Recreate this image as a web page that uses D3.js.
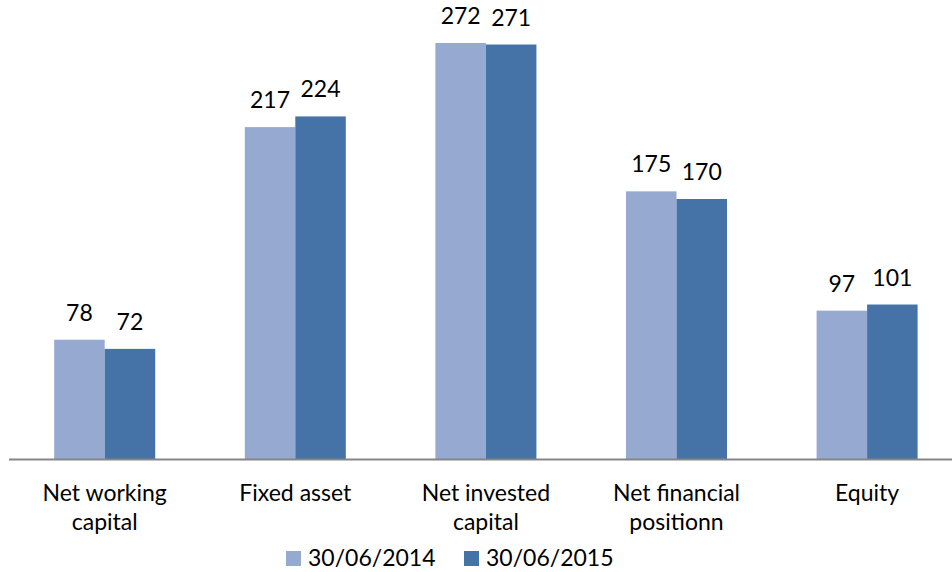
<!DOCTYPE html>
<html>
<head>
<meta charset="utf-8">
<script src="https://cdn.jsdelivr.net/npm/d3@7"></script>
<style>
  body { margin: 0; background: #fff; }
  text { font-family: Lato, "Open Sans", sans-serif; fill: #000; }
</style>
</head>
<body>
<div id="chart"></div>
<script>
const categories = [["Net working", "capital"], ["Fixed asset"], ["Net invested", "capital"], ["Net financial", "positionn"], ["Equity"]];
const seriesNames = ["30/06/2014", "30/06/2015"];
const values2014 = [78, 217, 272, 175, 97];
const values2015 = [72, 224, 271, 170, 101];
const colors = ["#95A9D1", "#4573A8"];

const width = 952, height = 572;
const baseline = 459;
const fontSize = "23px";

const svg = d3.select("#chart")
  .append("svg")
  .attr("width", width)
  .attr("height", height);

const xScale = d3.scaleBand()
  .domain(d3.range(categories.length))
  .range([9.4, 962.4])
  .paddingInner(0.47)
  .paddingOuter(0.235);

const xSub = d3.scaleBand()
  .domain([0, 1])
  .range([0, xScale.bandwidth()]);

const yScale = d3.scaleLinear()
  .domain([0, 272])
  .range([baseline, 43]);

const series = [values2014, values2015];

series.forEach((vals, s) => {
  const g = svg.append("g");
  g.selectAll("rect")
    .data(vals)
    .enter()
    .append("rect")
    .attr("x", (d, i) => xScale(i) + xSub(s))
    .attr("y", d => yScale(d))
    .attr("width", xSub.bandwidth())
    .attr("height", d => baseline - yScale(d))
    .attr("fill", colors[s]);

  g.selectAll("text")
    .data(vals)
    .enter()
    .append("text")
    .attr("x", (d, i) => xScale(i) + xSub(s) + xSub.bandwidth() / 2)
    .attr("y", d => yScale(d) - 19)
    .attr("text-anchor", "middle")
    .style("font-size", fontSize)
    .text(d => d);
});

// axis line
svg.append("line")
  .attr("x1", 9)
  .attr("x2", width)
  .attr("y1", baseline + 0.5)
  .attr("y2", baseline + 0.5)
  .attr("stroke", "#868686")
  .attr("stroke-width", 2);

// category labels
const catLabels = svg.append("g")
  .selectAll("text")
  .data(categories)
  .enter()
  .append("text")
  .attr("text-anchor", "middle")
  .attr("y", 501)
  .style("font-size", fontSize);

catLabels.each(function(lines, i) {
  const t = d3.select(this);
  lines.forEach((line, j) => {
    t.append("tspan")
      .attr("x", xScale(i) + xScale.bandwidth() / 2)
      .attr("y", 501 + j * 29)
      .text(line);
  });
});

// legend
const legendX = [286, 464];
const legend = svg.append("g")
  .selectAll("g")
  .data(seriesNames)
  .enter()
  .append("g")
  .attr("transform", (d, i) => `translate(${legendX[i]}, 551)`);

legend.append("rect")
  .attr("width", 15)
  .attr("height", 15)
  .attr("fill", (d, i) => colors[i]);

legend.append("text")
  .attr("x", 22)
  .attr("y", 15)
  .style("font-size", fontSize)
  .text(d => d);
</script>
</body>
</html>
